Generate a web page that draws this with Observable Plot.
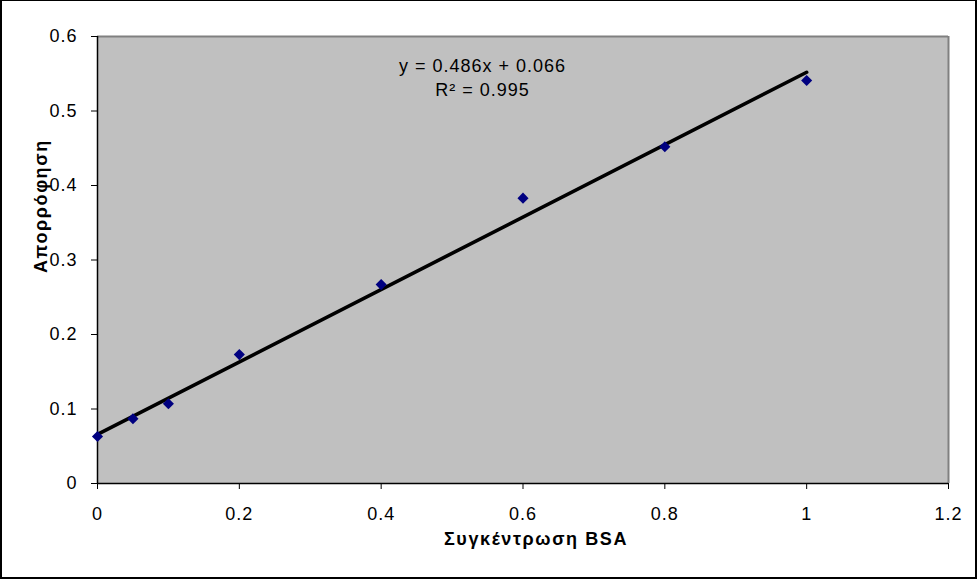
<!DOCTYPE html>
<html>
<head>
<meta charset="utf-8">
<script src="https://cdn.jsdelivr.net/npm/d3@7"></script>
<script src="https://cdn.jsdelivr.net/npm/@observablehq/plot@0.6"></script>
<style>
  html, body { margin: 0; padding: 0; background: #fff; }
  #wrap { position: relative; width: 977px; height: 579px; overflow: hidden; }
  #border { position: absolute; left: 0; top: 0; width: 977px; height: 579px; box-sizing: border-box;
            border-style: solid; border-color: #000; border-width: 1px 2px 2px 2px; pointer-events: none; }
  svg { display: block; }
  .ttl { letter-spacing: 1.6px; }
</style>
</head>
<body>
<div id="wrap"><div id="border"></div></div>
<script>
// Data
const concentration = [0, 0.05, 0.1, 0.2, 0.4, 0.6, 0.8, 1.0];
const absorbance    = [0.063, 0.087, 0.107, 0.173, 0.267, 0.383, 0.452, 0.541];
const trendX = [0, 1];
const slope = 0.486, intercept = 0.066;
const trendY = [0.066, 0.552];
const xTicks = [0, 0.2, 0.4, 0.6, 0.8, 1, 1.2];
const yTicks = [0, 0.1, 0.2, 0.3, 0.4, 0.5, 0.6];
const equationLines = ["y = 0.486x + 0.066", "R² = 0.995"];
const xTitle = "Συγκέντρωση BSA";
const yTitle = "Απορρόφηση";

const points = concentration.map((x, i) => ({x, y: absorbance[i]}));
const trend = trendX.map((x, i) => ({x, y: trendY[i]}));
const fmt = d => String(d);

const chart = Plot.plot({
  width: 977,
  height: 579,
  marginLeft: 97,
  marginTop: 36,
  marginRight: 29,
  marginBottom: 96,
  style: { fontFamily: "'Liberation Sans', Arial, sans-serif", fontSize: "18px", background: "transparent", color: "#000", letterSpacing: "1px" },
  x: { domain: [0, 1.2], ticks: xTicks, tickFormat: fmt },
  y: { domain: [0, 0.6], ticks: yTicks, tickFormat: fmt },
  marks: [
    Plot.frame({ fill: "#c0c0c0" }),
    Plot.ruleY([0.6], { stroke: "#808080", strokeWidth: 2 }),
    Plot.ruleX([1.2], { stroke: "#808080", strokeWidth: 2 }),
    Plot.ruleX([0], { stroke: "#000", strokeWidth: 1.5 }),
    Plot.ruleY([0], { stroke: "#000", strokeWidth: 1.5 }),
    Plot.axisX({ ticks: xTicks, tickFormat: fmt, tickSize: 6, tickPadding: 18, label: null, stroke: "#000", strokeOpacity: 1 }),
    Plot.axisY({ ticks: yTicks, tickFormat: fmt, tickSize: 6, tickPadding: 14, label: null, stroke: "#000", strokeOpacity: 1 }),
    Plot.line(trend, { x: "x", y: "y", stroke: "#000", strokeWidth: 3.6 }),
    Plot.dot(points, { x: "x", y: "y", symbol: "diamond2", r: 5, fill: "#000080", stroke: "none" }),
    Plot.text([equationLines[0]], { text: d => d, frameAnchor: "top-left", dx: 385, dy: 23, fontSize: 18, textAnchor: "middle" }),
    Plot.text([equationLines[1]], { text: d => d, frameAnchor: "top-left", dx: 385, dy: 47, fontSize: 18, textAnchor: "middle" }),
    Plot.text([xTitle], { text: d => d, frameAnchor: "bottom", dx: 13, dy: 61, fontWeight: "bold", fontSize: 18, className: "ttl" }),
    Plot.text([yTitle], { text: d => d, frameAnchor: "left", dx: -56, dy: 13, rotate: -90, fontWeight: "bold", fontSize: 18, className: "ttl" })
  ]
});
document.getElementById("wrap").prepend(chart);
</script>
</body>
</html>
